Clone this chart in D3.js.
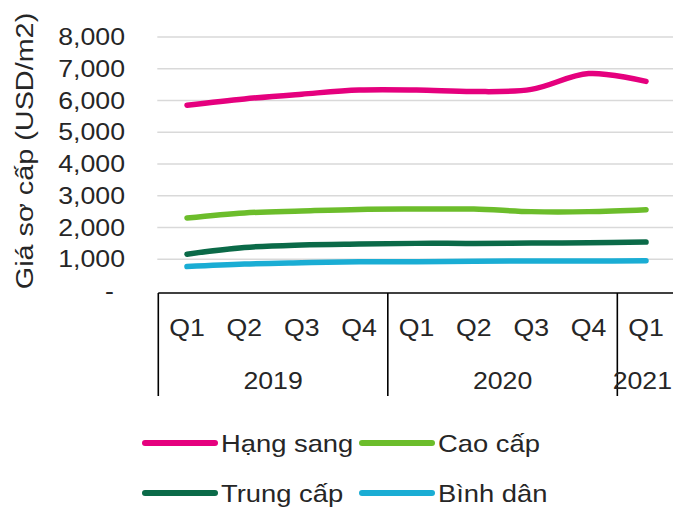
<!DOCTYPE html>
<html>
<head>
<meta charset="utf-8">
<script src="https://cdn.jsdelivr.net/npm/d3@7"></script>
<style>
  html, body { margin: 0; padding: 0; background: #ffffff; }
  svg { display: block; }
  text { font-family: "Liberation Sans", Arial, sans-serif; fill: #262626; }
</style>
</head>
<body>
<svg id="chart" width="673" height="510"></svg>
<script>
// Quarterly primary prices (USD/m2) by apartment segment
const quarters = ["Q1", "Q2", "Q3", "Q4", "Q1", "Q2", "Q3", "Q4", "Q1"];
const years = ["2019", "2020", "2021"];
const quartersPerYear = [4, 4, 1];

const hangSang = [5850, 6050, 6200, 6330, 6330, 6280, 6350, 6850, 6600];
const caoCap   = [2300, 2460, 2520, 2570, 2580, 2580, 2500, 2500, 2560];
const trungCap = [1160, 1370, 1450, 1480, 1500, 1500, 1510, 1520, 1540];
const binhDan  = [770, 850, 890, 920, 920, 940, 945, 945, 955];

const seriesNames = ["Hạng sang", "Cao cấp", "Trung cấp", "Bình dân"];
const seriesColors = ["#e5007e", "#6cbd2b", "#0b6a48", "#1aadd4"];
const yTicks = [0, 1000, 2000, 3000, 4000, 5000, 6000, 7000, 8000];
const yTitle = "Giá sơ cấp (USD/m2)";

const series = [hangSang, caoCap, trungCap, binhDan].map((values, i) => ({
  name: seriesNames[i], color: seriesColors[i], values
}));

const svg = d3.select("#chart");
const stretch = 1.16;   // glyphs run slightly wide
const fontSize = 23;
const W = 673;

// plot frame
const plotLeft = 158.3, plotRight = 674.7;
const plotTop = 37, plotBottom = 291;

const idx = d3.range(quarters.length);
const x = d3.scaleBand().domain(idx).range([plotLeft, plotRight]);
const cx = i => x(i) + x.bandwidth() / 2;
const y = d3.scaleLinear().domain([0, 8000]).range([plotBottom, plotTop]);

function label(g, str, tx, ty, anchor, opts) {
  const o = opts || {};
  const s = o.stretch || stretch;
  return g.append("text")
    .attr("transform", `translate(${tx},${ty})${o.rotate || ""} scale(${s},1)`)
    .attr("text-anchor", anchor)
    .attr("font-size", o.size || fontSize)
    .text(str);
}

// gridlines
const grid = svg.append("g");
grid.selectAll("line")
  .data(yTicks.filter(v => v > 0))
  .join("line")
  .attr("x1", plotLeft - 1).attr("x2", W)
  .attr("y1", d => y(d)).attr("y2", d => y(d))
  .attr("stroke", "#d9d9d9").attr("stroke-width", 1.5);

// value axis labels
const yAxisG = svg.append("g");
yTicks.forEach(v => {
  if (v === 0) {
    label(yAxisG, "-", 114, y(v) + 8, "end");
  } else {
    label(yAxisG, d3.format(",")(v), 125, y(v) + 8, "end");
  }
});

// axis title
label(svg.append("g"), yTitle, 33, 151, "middle",
      { rotate: " rotate(-90)", size: 24, stretch: 1.2 });

// lines
const line = d3.line()
  .x((d, i) => cx(i))
  .y(d => y(d))
  .curve(d3.curveCatmullRom.alpha(0.5));

svg.append("g").selectAll("path")
  .data(series)
  .join("path")
  .attr("d", d => line(d.values))
  .attr("fill", "none")
  .attr("stroke", d => d.color)
  .attr("stroke-width", 5.5)
  .attr("stroke-linecap", "round")
  .attr("stroke-linejoin", "round");

// multi-level category axis
const axisTop = 293, axisBottom = 396;
const catG = svg.append("g");
catG.append("line")
  .attr("x1", plotLeft).attr("x2", W)
  .attr("y1", axisTop).attr("y2", axisTop)
  .attr("stroke", "#000").attr("stroke-width", 1.6);

const yearStarts = quartersPerYear.map((n, i) => d3.sum(quartersPerYear.slice(0, i)));
yearStarts.forEach(k => {
  const xp = x(k);
  catG.append("line")
    .attr("x1", xp).attr("x2", xp)
    .attr("y1", axisTop).attr("y2", axisBottom)
    .attr("stroke", "#000").attr("stroke-width", 1.6);
});

quarters.forEach((q, i) => label(catG, q, cx(i), 336, "middle"));
years.forEach((yr, i) => {
  const s = yearStarts[i], n = quartersPerYear[i];
  const mid = (x(s) + (s + n < quarters.length ? x(s + n) : plotRight)) / 2;
  const t = label(catG, yr, mid, 389, "middle");
  // keep the last year label inside the canvas
  const half = t.node().getBBox().width * stretch / 2;
  if (mid + half > W - 1) {
    t.attr("transform", `translate(${W - 1 - half},389) scale(${stretch},1)`);
  }
});

// legend
const legend = svg.append("g");
const legendPos = [
  { lx: 145, ly: 443 }, { lx: 362, ly: 443 },
  { lx: 145, ly: 493 }, { lx: 362, ly: 493 }
];
series.forEach((s, i) => {
  const p = legendPos[i];
  legend.append("line")
    .attr("x1", p.lx).attr("x2", p.lx + 70)
    .attr("y1", p.ly).attr("y2", p.ly)
    .attr("stroke", s.color).attr("stroke-width", 6)
    .attr("stroke-linecap", "round");
  label(legend, s.name, p.lx + 76, p.ly + 9, "start", { size: 24, stretch: 1.14 });
});
</script>
</body>
</html>
